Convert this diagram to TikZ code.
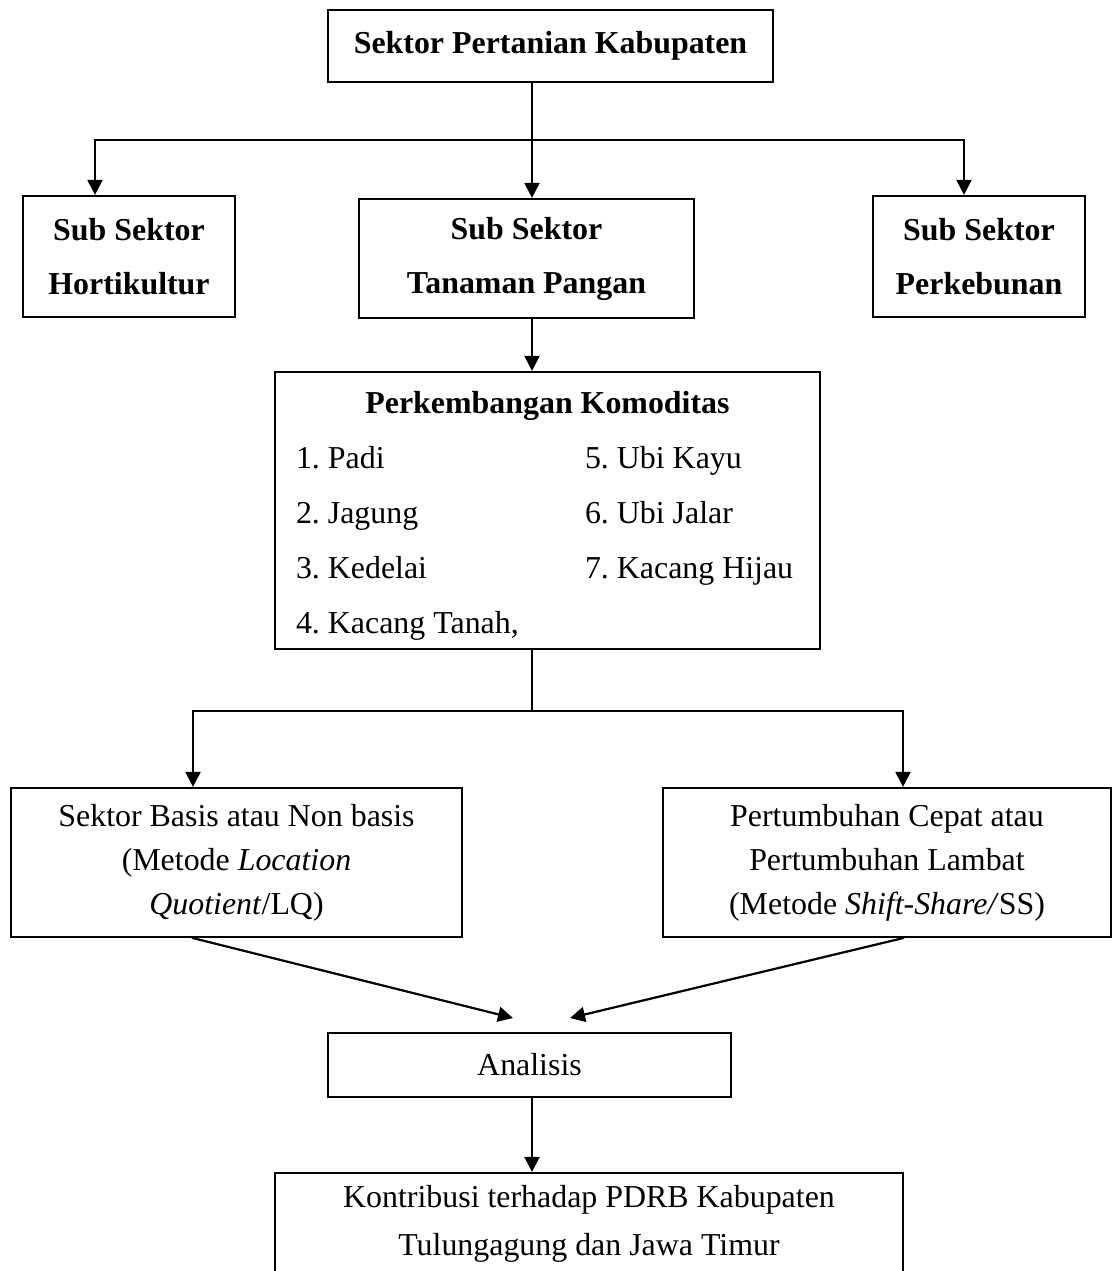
\documentclass[tikz,border=0pt]{standalone}
\usepackage{fontspec}
\setmainfont{Liberation Serif}
\usetikzlibrary{arrows.meta}
\frenchspacing

\begin{document}
\begin{tikzpicture}[
  x=1pt,y=-1pt,
  b/.style={draw,line width=2.2pt,inner sep=0pt,align=center,font=\fontsize{31.9}{54}\selectfont},
  bb/.style={b,font=\fontsize{31.9}{54}\selectfont\bfseries},
  ln/.style={line width=2.2pt,line cap=rect},
  arr/.style={ln,-{Triangle[length=15pt,width=15pt]}}
]
\useasboundingbox (0,0) rectangle (1117,1271);

\node[bb,minimum width=445,minimum height=72] (top) at (550.5,46) {Sektor Pertanian Kabupaten};

\node[bb,minimum width=212,minimum height=121] (hort) at (129,256.5) {Sub Sektor\\Hortikultur};
\node[bb,minimum width=335,minimum height=119] (tanam) at (526.5,258.5) {Sub Sektor\\Tanaman Pangan};
\node[bb,minimum width=212,minimum height=121] (kebun) at (979,256.5) {Sub Sektor\\Perkebunan};

\node[b,minimum width=545,minimum height=277,font=\fontsize{31.9}{55}\selectfont] (perk) at (547.5,510.5) {%
  \rule{0pt}{32pt}\textbf{Perkembangan Komoditas}\\
  \makebox[289pt][l]{1. Padi}\makebox[214pt][l]{5. Ubi Kayu}\\
  \makebox[289pt][l]{2. Jagung}\makebox[214pt][l]{6. Ubi Jalar}\\
  \makebox[289pt][l]{3. Kedelai}\makebox[214pt][l]{7. Kacang Hijau}\\
  \makebox[503pt][l]{4. Kacang Tanah,}};

\node[b,minimum width=451,minimum height=149,font=\fontsize{31.9}{44}\selectfont] (basis) at (236.5,862.5)
  {Sektor Basis atau Non basis\\(Metode \textit{Location}\\\textit{Quotient}/LQ)};
\node[b,minimum width=448,minimum height=149,font=\fontsize{31.9}{44}\selectfont] (tumbuh) at (887,862.5)
  {Pertumbuhan Cepat atau\\Pertumbuhan Lambat\\(Metode \textit{Shift-Share/}SS)};

\node[b,minimum width=403,minimum height=64] (anl) at (529.5,1065) {Analisis};
\node[b,minimum width=628,minimum height=102,font=\fontsize{31.9}{48}\selectfont] (kontr) at (589,1224)
  {Kontribusi terhadap PDRB Kabupaten\\Tulungagung dan Jawa Timur};

% branch points
\coordinate (j1) at (532,140);
\coordinate (l1) at (95,140);
\coordinate (r1) at (964,140);
\coordinate (j2) at (532,711);
\coordinate (l2) at (193,711);
\coordinate (r2) at (903,711);
\coordinate (tl) at (513,1018);
\coordinate (tr) at (570,1018);

\draw[ln] (top.south -| j1) -- (j1);
\draw[ln] (l1) -- (r1);
\draw[arr] (l1) -- (l1 |- hort.north);
\draw[arr] (j1) -- (j1 |- tanam.north);
\draw[arr] (r1) -- (r1 |- kebun.north);
\draw[arr] (tanam.south -| j1) -- (perk.north -| j1);

\draw[ln] (perk.south -| j2) -- (j2);
\draw[ln] (l2) -- (r2);
\draw[arr] (l2) -- (l2 |- basis.north);
\draw[arr] (r2) -- (r2 |- tumbuh.north);

\draw[arr] (basis.south -| l2) -- (tl);
\draw[arr] (tumbuh.south -| r2) -- (tr);
\draw[arr] (anl.south -| j2) -- (kontr.north -| j2);
\end{tikzpicture}
\end{document}
